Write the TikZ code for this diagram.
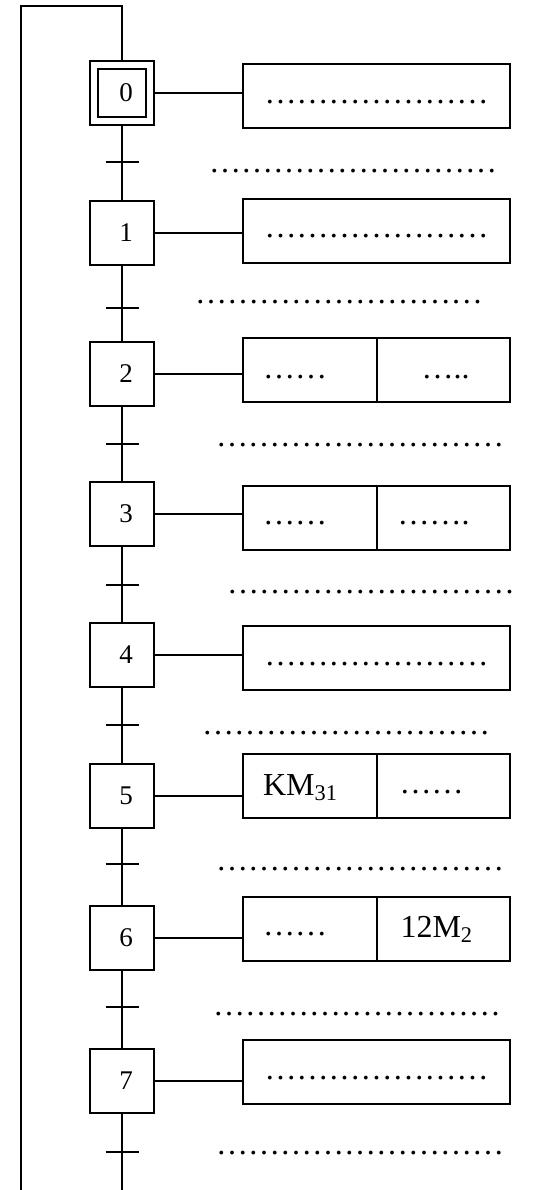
\documentclass[tikz,border=0pt]{standalone}
\usepackage{fontspec}
\setmainfont{Liberation Serif}
\usetikzlibrary{calc}

\newcommand{\longdots}{………………………}
\newcommand{\boxdots}{…………………}

\begin{document}
\begin{tikzpicture}[x=0.5pt, y=-0.5pt, line width=1pt,
    stepbox/.style={draw, minimum size=32pt, inner sep=0pt, font=\fontsize{13.5}{13.5}\selectfont},
    actbox/.style={draw, minimum width=133.5pt, minimum height=32pt, inner sep=0pt,
      font=\fontsize{16}{16}\selectfont, text height=9pt, text depth=2pt},
    acttext/.style={anchor=base west, inner sep=0pt, font=\fontsize{16}{16}\selectfont},
    recep/.style={anchor=base west, inner sep=0pt, font=\fontsize{16}{16}\selectfont}]
  \useasboundingbox (0,0) rectangle (533,1190);

  % steps
  \node[stepbox] (s0) at (122,93) {\hspace*{4pt}0};
  \node[draw, minimum size=24pt, inner sep=0pt] (s0in) at (s0) {};
  \foreach \n/\y in {1/233, 2/373.5, 3/514, 4/655, 5/795.5, 6/938, 7/1081}
    \node[stepbox] (s\n) at (122,\y) {\hspace*{4pt}\n};

  % actions
  \node[actbox] (a0) at (376.5,96) {\boxdots};
  \node[actbox] (a1) at (376.5,230.5) {\boxdots};
  \node[actbox] (a2) at (376.5,370) {};
  \node[actbox] (a3) at (376.5,517.5) {};
  \node[actbox] (a4) at (376.5,658) {\boxdots};
  \node[actbox] (a5) at (376.5,786) {};
  \node[actbox] (a6) at (376.5,928.5) {};
  \node[actbox] (a7) at (376.5,1072) {\boxdots};
  \foreach \n in {2,3,5,6}
    \draw (a\n.north) -- (a\n.south);
  \node[acttext] (a2l) at ($(a2.west)+(20,8)$) {……};
  \node[acttext] (a2r) at ($(a2.center)+(44,8)$) {…..};
  \node[acttext] (a3l) at ($(a3.west)+(20,7)$) {……};
  \node[acttext] (a3r) at ($(a3.center)+(20,7)$) {…….};
  \node[acttext] (a5l) at ($(a5.west)+(20,9)$) {KM\textsubscript{31}};
  \node[acttext] (a5r) at ($(a5.center)+(22,7)$) {……};
  \node[acttext] (a6l) at ($(a6.west)+(20,7)$) {……};
  \node[acttext] (a6r) at ($(a6.center)+(23,9)$) {12M\textsubscript{2}};

  \foreach \n in {0,...,7}
    \draw (s\n.east) -- (s\n.east -| a\n.west);

  % links and transitions
  \foreach \n [count=\m] in {0,...,6}
    \draw (s\n.south) -- (s\m.north);
  \coordinate (tail) at (122,1190);
  \draw (s7.south) -- (tail);
  \foreach \n/\y in {0/162, 1/308, 2/444, 3/585, 4/725, 5/864, 6/1007, 7/1152} {
    \coordinate (t\n) at (122,\y);
    \draw ([xshift=-8.25pt]t\n) -- ([xshift=8.25pt]t\n);
  }
  \foreach \n/\x/\y in {0/208/172, 1/194/303, 2/215/446, 3/226/593, 4/201/734, 5/215/870, 6/212/1015, 7/215/1154}
    \node[recep] (r\n) at (\x,\y) {\longdots};

  % return loop
  \coordinate (looptop) at (21,6);
  \coordinate (loopbot) at (21,1190);
  \draw (s0.north) -- (s0.north |- looptop) -- (looptop) -- (loopbot);
\end{tikzpicture}
\end{document}
